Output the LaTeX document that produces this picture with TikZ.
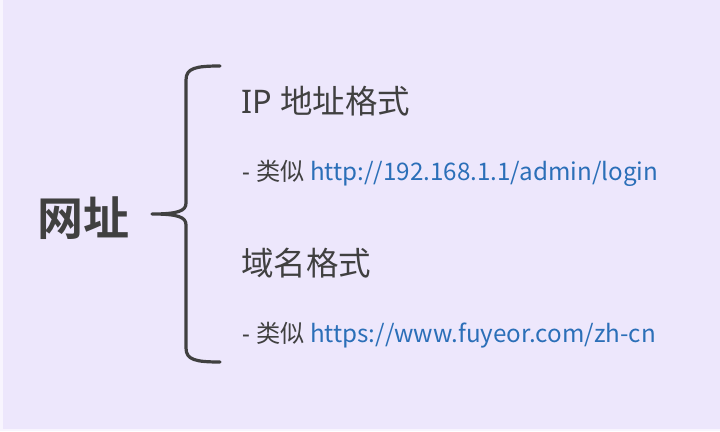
\documentclass[tikz,border=0pt]{standalone}
\usepackage{fontspec}
\setmainfont{Noto Sans}
\newfontfamily\cjk{Noto Sans CJK SC}
\newfontfamily\cjkb{Noto Sans CJK SC Bold}
\definecolor{bg}{HTML}{EDE7FC}
\definecolor{ink}{HTML}{404040}
\definecolor{link}{HTML}{2B6FB8}
\begin{document}
\begin{tikzpicture}[x=1pt,y=-1pt,
  txt/.style={anchor=west,inner sep=0pt,text=ink},
  head/.style={txt,font=\fontsize{32.5}{32.5}\selectfont},
  sub/.style={txt,font=\fontsize{24.2}{24.2}\selectfont},
  brace/.style={draw=ink,line width=3.2pt,line cap=round,line join=round}]
\useasboundingbox (0,0) rectangle (720,431);
\fill[white!60!bg] (0,0) rectangle (720,431);
\fill[bg] (3,0) rectangle (720,429);
\node[inner sep=0pt,text=ink,font=\cjkb\fontsize{46}{46}\selectfont] (root) at (83,218) {网址};
\coordinate (top) at (220,66);
\coordinate (tip) at (152,214);
\coordinate (bot) at (220,362);
\draw[brace] (top) .. controls (196,66) and (186,68) .. (186,80) -- (186,203)
  .. controls (186,211) and (178,214) .. (tip)
  .. controls (178,214) and (186,217) .. (186,225) -- (186,348)
  .. controls (186,360) and (196,362) .. (bot);
\node[head] (ip) at (241,101) {IP \cjk{地址格式}};
\node[sub] (ipex) at (242,173) {- \cjk{类似} \textcolor{link}{http://192.168.1.1/admin/login}};
\node[head] (dn) at (241,263) {\cjk{域名格式}};
\node[sub] (dnex) at (242,335) {- \cjk{类似} \textcolor{link}{https://www.fuyeor.com/zh-cn}};
\end{tikzpicture}
\end{document}
